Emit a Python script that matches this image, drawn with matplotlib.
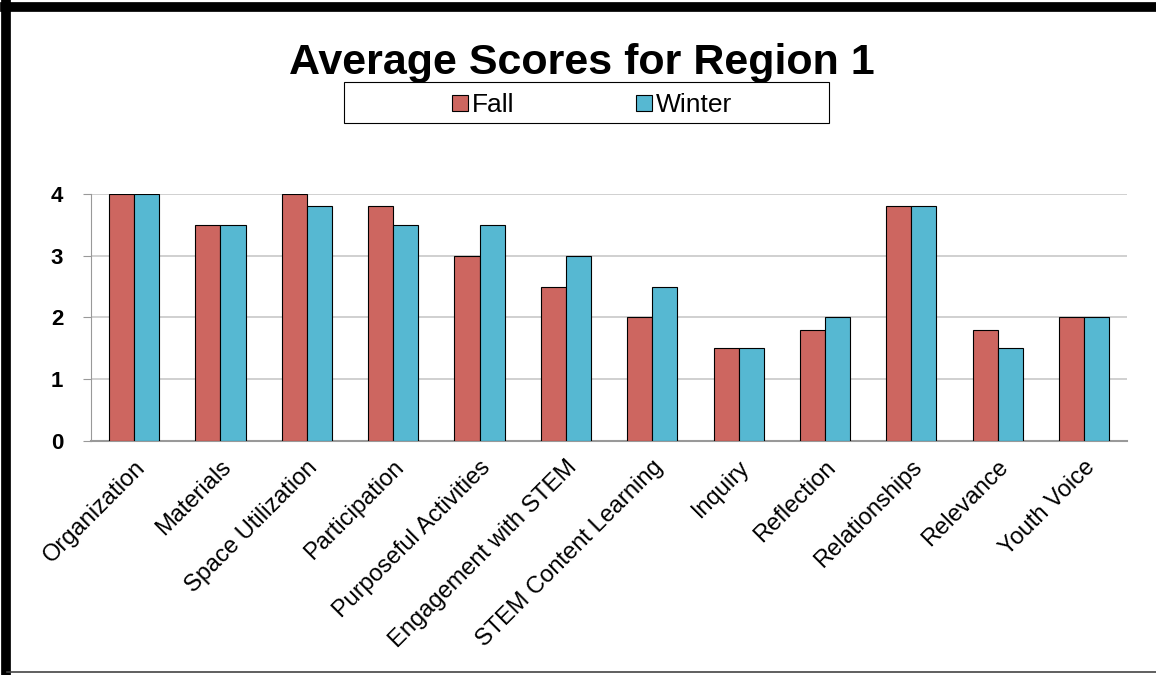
import matplotlib.pyplot as plt
import numpy as np
from matplotlib.lines import Line2D
from matplotlib.patches import Rectangle

categories = ['Organization', 'Materials', 'Space Utilization', 'Participation',
              'Purposeful Activities', 'Engagement with STEM', 'STEM Content Learning',
              'Inquiry', 'Reflection', 'Relationships', 'Relevance', 'Youth Voice']
fall = [4, 3.5, 4, 3.8, 3, 2.5, 2, 1.5, 1.8, 3.8, 1.8, 2]
winter = [4, 3.5, 3.8, 3.5, 3.5, 3, 2.5, 1.5, 2, 3.8, 1.5, 2]

plt.rcParams['font.family'] = ['Liberation Sans', 'DejaVu Sans']

fig = plt.figure(figsize=(11.56, 6.75), dpi=100)
ax = fig.add_axes([0.0787, 0.3467, 0.8963, 0.3659])

x = np.arange(len(categories))
w = 0.29
ax.bar(x - w/2, fall, w, color='#CD6660', edgecolor='black', linewidth=0.8, label='Fall', zorder=3)
ax.bar(x + w/2, winter, w, color='#56B8D2', edgecolor='black', linewidth=0.8, label='Winter', zorder=3)

ax.set_xlim(-0.5, len(categories) - 0.5)
ax.set_ylim(0, 4)
ax.set_yticks([0, 1, 2, 3, 4])
ax.grid(axis='y', color='#c8c8c8', linewidth=1.2, zorder=0)
for s in ['top', 'right']:
    ax.spines[s].set_visible(False)
ax.spines['left'].set_color('#999999')
ax.spines['bottom'].set_color('#999999')
ax.spines['bottom'].set_linewidth(1.5)
ax.tick_params(axis='y', length=6, color='#999999', labelsize=16, pad=14)
ax.tick_params(axis='x', length=0, labelsize=17, pad=11)
for t in ax.get_yticklabels():
    t.set_fontweight('bold')
ax.set_xticks(x)
ax.set_xticklabels(categories, rotation=45, ha='right', rotation_mode='anchor')

fig.text(0.503, 0.907, 'Average Scores for Region 1', ha='center', va='center',
         fontsize=31, fontweight='bold')

# legend box drawn separately, entries centred inside it
fig.add_artist(Rectangle((0.2976, 0.818), 0.4196, 0.060, transform=fig.transFigure,
                         facecolor='white', edgecolor='black', linewidth=0.8))
leg = fig.legend(loc='center', bbox_to_anchor=(0.512, 0.844), ncol=2, fontsize=19,
                 frameon=False, handlelength=0.6, handleheight=0.6,
                 handletextpad=0.15, columnspacing=4.6)

# outer frame
fig.add_artist(Line2D([0.004, 1], [0.99, 0.99], color='black', linewidth=7, transform=fig.transFigure))
fig.add_artist(Line2D([0.0055, 0.0055], [0.005, 0.995], color='black', linewidth=7, transform=fig.transFigure))
fig.add_artist(Line2D([0.006, 1], [0.004, 0.004], color='#444444', linewidth=1.2, transform=fig.transFigure))

fig.savefig('out.png', dpi=100)
